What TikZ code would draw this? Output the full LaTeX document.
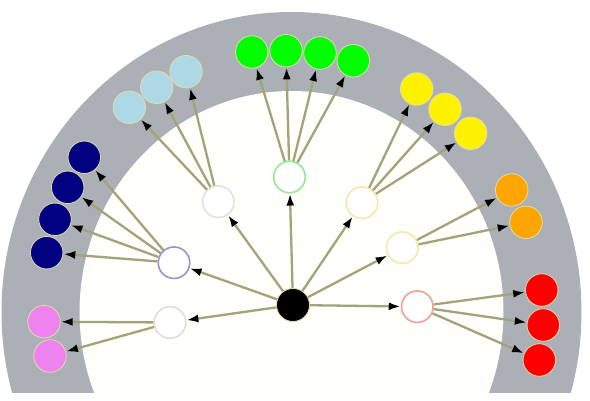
\documentclass[tikz,border=0pt]{standalone}
\usetikzlibrary{arrows.meta}

\definecolor{ringgray}{RGB}{170,176,181}
\definecolor{innerwhite}{RGB}{254,254,250}
\definecolor{edgecol}{RGB}{163,163,122}
\definecolor{leafline}{RGB}{228,218,172}
\definecolor{navyblue}{RGB}{0,0,128}
\definecolor{lightblue}{RGB}{173,216,230}
\definecolor{brightgreen}{RGB}{0,255,0}
\definecolor{orangeleaf}{RGB}{255,165,0}
\definecolor{violetleaf}{RGB}{238,130,238}

\begin{document}
\begin{tikzpicture}[x=1pt,y=-1pt]
        \tikzstyle{every node}=[circle, inner sep=0pt, minimum size=31pt]
        \tikzstyle{hub}=[fill=white, line width=1.6pt, minimum size=31.5pt]
        \tikzstyle{leaf}=[draw=leafline, line width=0.8pt, minimum size=32.5pt]
        \tikzstyle{edge}=[edgecol, line width=2.3pt, -{Latex[length=12pt,width=8pt,color=black]}]

        \useasboundingbox (0,0) rectangle (590,401);
        \begin{scope}
            \clip (0,0) rectangle (590,392);
            \fill[ringgray] (291.5,312) ellipse [x radius=290pt, y radius=300pt];
            \fill[innerwhite] (291.5,312) ellipse [x radius=212pt, y radius=221pt];
        \end{scope}

        \node[fill=black, draw=leafline, line width=0.8pt, minimum size=33pt] (root) at (293,305) {};

        \node[hub, draw={rgb,255:red,222;green,222;blue,222}] (pv) at (170,322.5) {};
        \node[hub, draw={rgb,255:red,150;green,150;blue,200}] (pn) at (174,262.7) {};
        \node[hub, draw={rgb,255:red,226;green,226;blue,226}] (pb) at (218.3,201.7) {};
        \node[hub, draw={rgb,255:red,150;green,232;blue,150}] (pg) at (289.5,177) {};
        \node[hub, draw={rgb,255:red,250;green,230;blue,170}] (py) at (362,202.7) {};
        \node[hub, draw={rgb,255:red,250;green,230;blue,170}] (po) at (402.3,247.7) {};
        \node[hub, draw={rgb,255:red,240;green,160;blue,150}] (pr) at (417.3,306.7) {};

        \node[leaf, fill=violetleaf] (v1) at (44,321.7)   {};
        \node[leaf, fill=violetleaf] (v2) at (50,356)     {};

        \node[leaf, fill=navyblue]   (n1) at (84.3,157.3) {};
        \node[leaf, fill=navyblue]   (n2) at (67.7,187.3) {};
        \node[leaf, fill=navyblue]   (n3) at (55,219.3)   {};
        \node[leaf, fill=navyblue]   (n4) at (46.7,252.7) {};

        \node[leaf, fill=lightblue]  (b1) at (129.3,107.3) {};
        \node[leaf, fill=lightblue]  (b2) at (156.7,87.3)  {};
        \node[leaf, fill=lightblue]  (b3) at (186,71.7)    {};

        \node[leaf, fill=brightgreen] (g1) at (251.7,52)   {};
        \node[leaf, fill=brightgreen] (g2) at (286,50.7)   {};
        \node[leaf, fill=brightgreen] (g3) at (320,53)     {};
        \node[leaf, fill=brightgreen] (g4) at (353.3,60.7) {};

        \node[leaf, fill=yellow]     (y1) at (416.7,89)    {};
        \node[leaf, fill=yellow]     (y2) at (445,109.3)   {};
        \node[leaf, fill=yellow]     (y3) at (470.7,133.3) {};

        \node[leaf, fill=orangeleaf] (o1) at (511.7,190)   {};
        \node[leaf, fill=orangeleaf] (o2) at (526,222.3)   {};

        \node[leaf, fill=red]        (r1) at (541.7,290)   {};
        \node[leaf, fill=red]        (r2) at (543.3,325)   {};
        \node[leaf, fill=red]        (r3) at (539.3,360)   {};

        % root to hubs
        \foreach \h in {pv,pn,pb,pg,py,po,pr}
            \draw[edge] (root) -- (\h);

        % hubs to leaves
        \foreach \l in {v1,v2}       \draw[edge] (pv) -- (\l);
        \foreach \l in {n1,n2,n3,n4} \draw[edge] (pn) -- (\l);
        \foreach \l in {b1,b2,b3}    \draw[edge] (pb) -- (\l);
        \foreach \l in {g1,g2,g3,g4} \draw[edge] (pg) -- (\l);
        \foreach \l in {y1,y2,y3}    \draw[edge] (py) -- (\l);
        \foreach \l in {o1,o2}       \draw[edge] (po) -- (\l);
        \foreach \l in {r1,r2,r3}    \draw[edge] (pr) -- (\l);
    \end{tikzpicture}
\end{document}
